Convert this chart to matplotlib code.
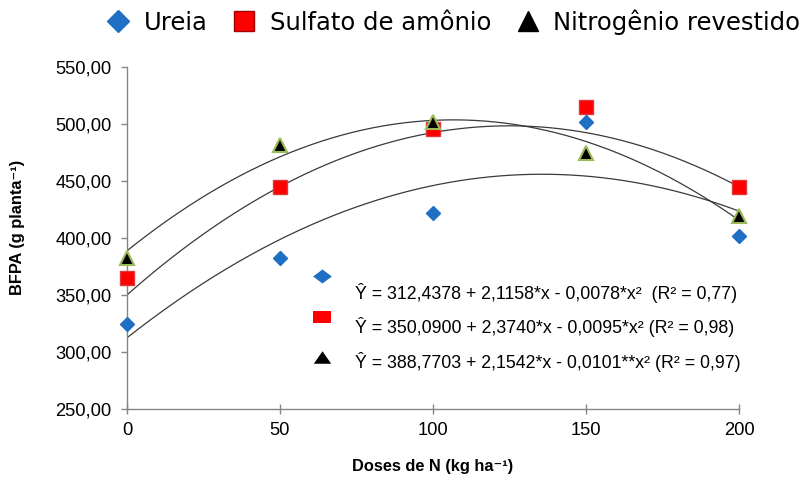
import matplotlib
matplotlib.use("Agg")
import matplotlib.pyplot as plt
import numpy as np
from matplotlib.lines import Line2D
from matplotlib.ticker import FuncFormatter

doses = [0, 50, 100, 150, 200]
ureia = [324.5, 382.5, 421.5, 502.0, 401.5]
sulfato = [364.5, 445.0, 496.0, 514.5, 445.0]
nitro_rev = [382.5, 481.5, 501.5, 475.0, 419.0]

series_names = ["Ureia", "Sulfato de amônio", "Nitrogênio revestido"]
# coefficients of the fitted curves (a + b*x + c*x^2)
coef_ureia = [312.4378, 2.1158, -0.0078]
coef_sulfato = [350.0900, 2.3740, -0.0095]
coef_nitro = [388.7703, 2.1542, -0.0101]
equations = [
    "Ŷ = 312,4378 + 2,1158*x - 0,0078*x²  (R² = 0,77)",
    "Ŷ = 350,0900 + 2,3740*x - 0,0095*x² (R² = 0,98)",
    "Ŷ = 388,7703 + 2,1542*x - 0,0101**x² (R² = 0,97)",
]

BLUE = "#1f6fc5"
RED = "#ff0000"
GREEN_EDGE = "#9bbb59"
AXIS_GRAY = "#868686"
FONT = ["Liberation Sans", "DejaVu Sans"]

plt.rcParams["font.family"] = FONT

fig = plt.figure(figsize=(8.03, 4.88), dpi=100)
ax = fig.add_axes([127 / 803, 1 - 409 / 488, 612 / 803, 342 / 488])

# fitted curves
xs = np.linspace(0, 200, 300)
for c in (coef_ureia, coef_sulfato, coef_nitro):
    ax.plot(xs, c[0] + c[1] * xs + c[2] * xs ** 2, color="#3a3a3a", lw=0.9, zorder=2)

# data points
ax.plot(doses, ureia, ls="none", marker="D", ms=7.4, color=BLUE, mec=BLUE,
        zorder=3, clip_on=False)
ax.plot(doses, sulfato, ls="none", marker="s", ms=9.5, color=RED, mec="#e03838",
        mew=1.0, zorder=3, clip_on=False)
ax.plot(doses, nitro_rev, ls="none", marker="^", ms=10.5, color="black",
        mec=GREEN_EDGE, mew=1.5, zorder=4, clip_on=False)

# equation keys and texts
flat_diamond = [(0, 0.75), (1, 0), (0, -0.75), (-1, 0), (0, 0.75)]
flat_rect = [(-1, -0.63), (1, -0.63), (1, 0.63), (-1, 0.63), (-1, -0.63)]
flat_tri = [(-1, -0.72), (1, -0.72), (0, 0.72), (-1, -0.72)]
key_markers = [(flat_diamond, BLUE, 13.5), (flat_rect, RED, 13.0), (flat_tri, "black", 12.5)]
key_y = [0.389, 0.269, 0.152]
text_y = [0.339, 0.240, 0.137]
for (mk, col, ms), ky, ty, eq in zip(key_markers, key_y, text_y, equations):
    ax.plot([0.319], [ky], transform=ax.transAxes, marker=mk, ms=ms, mew=0,
            color=col, ls="none", clip_on=False)
    ax.text(0.3725, ty, eq, transform=ax.transAxes, fontsize=12.8, va="center",
            ha="left")

ax.set_xlim(0, 200)
ax.set_ylim(250, 550)
ax.set_xticks(doses)
ax.set_yticks(np.arange(250, 551, 50))
ax.yaxis.set_major_formatter(FuncFormatter(lambda v, p: f"{v:.2f}".replace(".", ",")))

for side in ("top", "right"):
    ax.spines[side].set_visible(False)
for side in ("left", "bottom"):
    ax.spines[side].set_color(AXIS_GRAY)
    ax.spines[side].set_linewidth(1.0)

ax.tick_params(axis="y", direction="out", length=4, width=1, color=AXIS_GRAY,
               labelsize=13.2, pad=7)
ax.tick_params(axis="x", direction="inout", length=7, width=1, color=AXIS_GRAY,
               labelsize=13.2, pad=6)

ax.set_ylabel("BFPA (g planta⁻¹)", fontsize=11.8, fontweight="bold")
ax.yaxis.set_label_coords(-(127 - 25) / 612, (409 - 227) / 342)
ax.set_xlabel("Doses de N (kg ha⁻¹)", fontsize=11.8, fontweight="bold")
ax.xaxis.set_label_coords(0.5, -(459 - 409) / 342)

# top legend
handles = [
    Line2D([], [], ls="none", marker="D", ms=11, color=BLUE, mec=BLUE),
    Line2D([], [], ls="none", marker="s", ms=14, color=RED, mec="#a00000", mew=1.0),
    Line2D([], [], ls="none", marker="^", ms=15, color="black", mec="black"),
]
fig.legend(handles, series_names, loc="center", bbox_to_anchor=(452 / 803, 1 - 22 / 488),
           ncol=3, frameon=False, handlelength=1.2, handletextpad=0.45,
           columnspacing=0.9, prop={"family": ["DejaVu Sans"], "size": 17.5})

fig.savefig("out.png", dpi=100)
